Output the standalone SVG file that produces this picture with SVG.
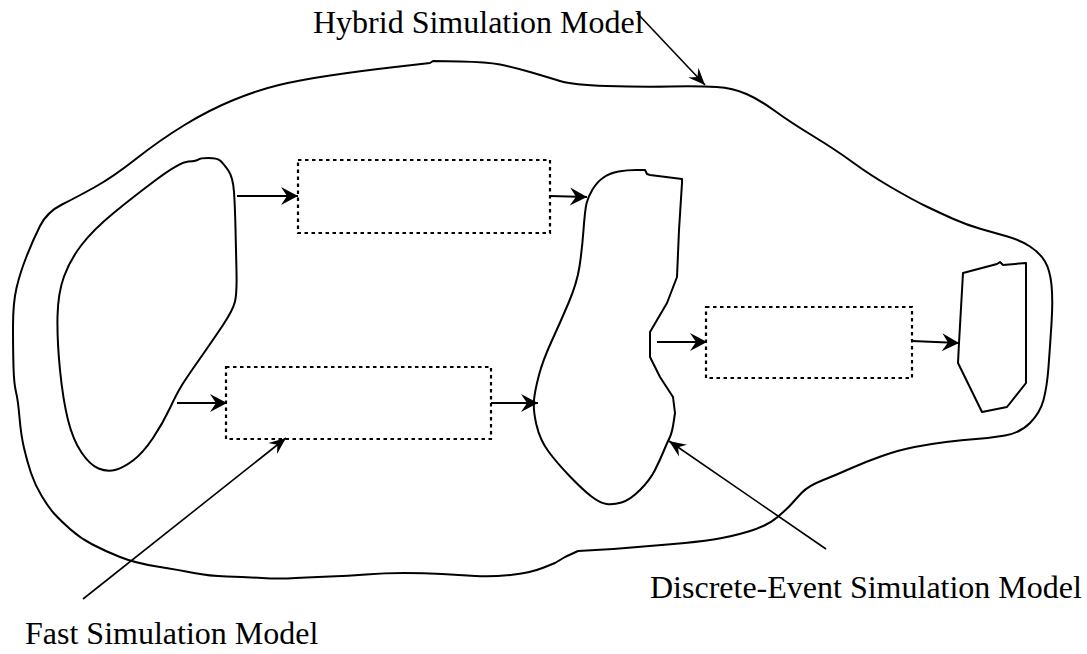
<svg xmlns="http://www.w3.org/2000/svg" width="1087" height="654" viewBox="0 0 1087 654">
<style>
.blob{fill:none;stroke:#000;stroke-width:2;stroke-linejoin:round;stroke-linecap:round}
.box{fill:none;stroke:#000;stroke-width:2.2;stroke-dasharray:3.5 3.5}
.flow{stroke:#000;stroke-width:2.2;fill:none;marker-end:url(#arr)}
.ptr{stroke:#000;stroke-width:1.6;fill:none;marker-end:url(#ptrh)}
.lbl{font-family:"Liberation Serif","Times New Roman",serif;font-size:32px;fill:#000}
</style>
<defs>
<marker id="arr" markerUnits="userSpaceOnUse" viewBox="-20 -11 22 22" refX="0" refY="0" markerWidth="22" markerHeight="22" orient="auto">
<path d="M0,0 L-17,-9 L-11,0 L-17,9 Z" fill="#000"/>
</marker>
<marker id="ptrh" markerUnits="userSpaceOnUse" viewBox="-20 -11 22 22" refX="0" refY="0" markerWidth="22" markerHeight="22" orient="auto">
<path d="M0,0 L-17,-7 L-11,0 L-17,7 Z" fill="#000"/>
</marker>
</defs>

<g id="hybrid-model">
<path class="blob" d="M40,226 Q47,212 62,204.5 Q77,197 95,187 Q113,177 136.5,158.5 Q160,140 184.5,125 Q209,110 233.5,100 Q258,90 279,85 Q300,80 330,75.5 Q360,71 395,67 L430,63 L433,61 L460,61.5 Q487,62 500,64.5 Q513,67 530,72 Q547,77 560,81 Q573,85 606.5,86 Q640,87 670,86.5 Q700,86 716.5,87 Q733,88 746.5,94 Q760,100 775,111 Q790,122 813,136 Q836,150 853,162.5 Q870,175 891.5,187.5 Q913,200 926.5,206.5 Q940,213 953.5,219 Q967,225 981,229 Q995,233 1007.5,236.5 Q1020,240 1030,246.5 Q1040,253 1045,261.5 Q1050,270 1051.5,285 Q1053,300 1051.5,323.5 Q1050,347 1048.5,367 Q1047,387 1043.5,400 Q1040,413 1030,423 Q1020,433 1005,435.5 Q990,438 976,439 Q962,440 946,442 Q930,444 914.5,447 Q899,450 882,456 Q865,462 850.5,468.5 Q836,475 822,480.5 Q808,486 801.5,493 Q795,500 791,504.5 Q787,509 777,517.5 Q767,526 748.5,531.5 Q730,537 713.5,539.5 Q697,542 673.5,544 Q650,546 631.5,547.5 Q613,549 595.5,550 L578,551 L565,557 L555,563 L542.5,568 Q530,573 510.5,575 Q491,577 475.5,576 Q460,575 442,574 Q424,573 404,573 Q384,573 366,574.5 Q348,576 330,576.5 Q312,577 295.5,578 Q279,579 262,578 Q245,577 227,576.5 Q209,576 194,573 Q179,570 157,566.5 Q135,563 120,557 Q105,551 92.5,544.5 Q80,538 70,529 Q60,520 54.5,514 Q49,508 42,496.5 Q35,485 31,473 Q27,461 24,448 Q21,435 19.5,417.5 Q18,400 16,392 Q14,384 13.5,367 Q13,350 13,326.5 Q13,303 16.5,288 Q20,273 26.5,256.5 Q33,240 40,226 Z"/>
</g>

<g id="fast-blob">
<path class="blob" d="M156.5,179.5 Q180,162 188.5,161.5 Q197,161 198.5,159.5 Q200,158 208.5,158 Q217,158 220,160.5 Q223,163 228,170 Q233,177 234,192 Q235,207 235.5,228.5 Q236,250 236.5,271.5 Q237,293 235,301.5 Q233,310 223,325 Q213,340 200,358.5 Q187,377 182,385 Q177,393 170,408 Q163,423 153,438 Q143,453 133,460.5 Q123,468 115,470 Q107,472 98.5,468.5 Q90,465 81.5,452.5 Q73,440 68,420 Q63,400 60,370 Q57,340 57.5,316.5 Q58,293 64,276.5 Q70,260 81.5,245 Q93,230 113,213.5 Q133,197 156.5,179.5 Z"/>
</g>

<g id="des-blob">
<path class="blob" d="M645,170 L647,174 L650,175 L682,179 L682,183 L679,230 L677,277 L667,303 L650,332 L650,357 L660,377 L673,397 L675,413 L673.5,423 Q672,433 669.5,438 Q667,443 663.5,451.5 Q660,460 655,470 Q650,480 640,490 Q630,500 621.5,502.5 Q613,505 606.5,504 Q600,503 591.5,496.5 Q583,490 570,476.5 Q557,463 548.5,451.5 Q540,440 536.5,425 Q533,410 534,400 Q535,390 539,375 Q543,360 551.5,341.5 Q560,323 568.5,303 Q577,283 579.5,266.5 Q582,250 583.5,230 Q585,210 586.5,203.5 Q588,197 592.5,189.5 Q597,182 603.5,177.5 Q610,173 618.5,171.5 Q627,170 636,170 Z"/>
</g>

<g id="end-blob">
<path class="blob" d="M963,273 L997,264 L1000,262 L1003,265 L1026,263 L1026,383 L1007,407 L982,412 L958,363 L959,343 Z"/>
</g>

<g id="box1"><rect class="box" x="298" y="160" width="252" height="73"/></g>
<g id="box2"><rect class="box" x="226" y="367" width="265" height="72"/></g>
<g id="box3"><rect class="box" x="706" y="307" width="206" height="71"/></g>

<g id="connectors">
<line class="flow" x1="237" y1="196" x2="298" y2="196"/>
<line class="flow" x1="550" y1="196" x2="587" y2="197"/>
<line class="flow" x1="177" y1="403" x2="227" y2="403"/>
<line class="flow" x1="491" y1="403" x2="538" y2="403"/>
<line class="flow" x1="657" y1="342" x2="707" y2="342"/>
<line class="flow" x1="912" y1="341" x2="959" y2="343"/>
<line class="ptr" x1="637" y1="13" x2="705" y2="85"/>
<line class="ptr" x1="83" y1="599" x2="286" y2="438"/>
<line class="ptr" x1="826" y1="549" x2="669" y2="441"/>
</g>

<g id="labels">
<text class="lbl" x="313" y="33">Hybrid Simulation Model</text>
<text class="lbl" x="650" y="598">Discrete-Event Simulation Model</text>
<text class="lbl" x="25" y="644">Fast Simulation Model</text>
</g>
</svg>
